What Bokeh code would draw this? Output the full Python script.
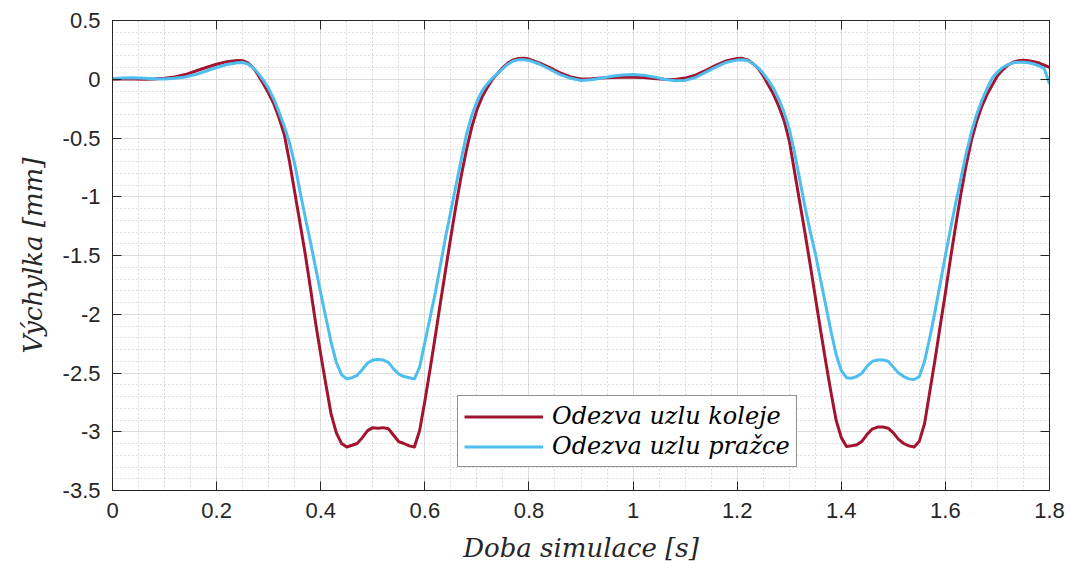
from bokeh.plotting import figure
from bokeh.models import (SingleIntervalTicker, LinearAxis, CustomJSTickFormatter,
                          Legend, LegendItem, Range1d, ColumnDataSource)
from bokeh.embed import file_html
from bokeh.resources import INLINE

# Simulation time [s]
t = [0.00, 0.02, 0.04, 0.06, 0.08, 0.10, 0.12, 0.14, 0.16, 0.18, 0.20, 0.22,
     0.24, 0.25, 0.26, 0.27, 0.28, 0.29, 0.30, 0.31, 0.32, 0.33, 0.34, 0.35,
     0.36, 0.37, 0.38, 0.39, 0.40, 0.41, 0.42, 0.43, 0.44, 0.45, 0.46, 0.47,
     0.48, 0.49, 0.50, 0.51, 0.52, 0.53, 0.54, 0.55, 0.56, 0.57, 0.58, 0.59,
     0.60, 0.61, 0.62, 0.63, 0.64, 0.65, 0.66, 0.67, 0.68, 0.69, 0.70, 0.71,
     0.72, 0.73, 0.74, 0.75, 0.76, 0.77, 0.78, 0.79, 0.80,
     0.82, 0.84, 0.86, 0.88, 0.90, 0.92, 0.94, 0.96, 0.98, 1.00, 1.02, 1.04,
     1.06, 1.08, 1.10, 1.12, 1.14, 1.16, 1.18,
     1.20, 1.21, 1.22, 1.23, 1.24, 1.25, 1.26, 1.27, 1.28, 1.29, 1.30, 1.31,
     1.32, 1.33, 1.34, 1.35, 1.36, 1.37, 1.38, 1.39, 1.40, 1.41, 1.42, 1.43,
     1.44, 1.45, 1.46, 1.47, 1.48, 1.49, 1.50, 1.51, 1.52, 1.53, 1.54, 1.55,
     1.56, 1.57, 1.58, 1.59, 1.60, 1.61, 1.62, 1.63, 1.64, 1.65, 1.66, 1.67,
     1.68, 1.69, 1.70, 1.71, 1.72, 1.73, 1.74, 1.75, 1.76, 1.77, 1.78, 1.79,
     1.80]

# Rail node response [mm]
koleje = [0.000, 0.002, 0.002, 0.001, 0.002, 0.008, 0.020, 0.040, 0.070, 0.100, 0.128, 0.150,
          0.160, 0.158, 0.140, 0.100, 0.035, -0.040, -0.120, -0.210, -0.330, -0.470, -0.700, -0.960,
          -1.220, -1.480, -1.770, -2.070, -2.340, -2.600, -2.850, -3.010, -3.100, -3.130, -3.115, -3.100,
          -3.050, -2.990, -2.965, -2.970, -2.965, -2.975, -3.030, -3.085, -3.100, -3.120, -3.130, -2.990,
          -2.740, -2.470, -2.190, -1.900, -1.620, -1.340, -1.070, -0.820, -0.600, -0.410, -0.260, -0.150,
          -0.070, 0.000, 0.050, 0.100, 0.140, 0.165, 0.176, 0.178, 0.172,
          0.140, 0.100, 0.055, 0.020, 0.003, 0.005, 0.010, 0.014, 0.017, 0.017, 0.014, 0.007,
          0.000, -0.003, 0.010, 0.035, 0.075, 0.120, 0.158,
          0.176, 0.178, 0.165, 0.135, 0.095, 0.030, -0.050, -0.130, -0.230, -0.350, -0.520, -0.780,
          -1.040, -1.300, -1.570, -1.850, -2.130, -2.400, -2.660, -2.900, -3.050, -3.125, -3.120, -3.110,
          -3.080, -3.020, -2.975, -2.960, -2.960, -2.970, -3.010, -3.065, -3.100, -3.120, -3.130, -3.080,
          -2.930, -2.660, -2.390, -2.100, -1.820, -1.520, -1.240, -0.970, -0.730, -0.520, -0.360, -0.230,
          -0.130, -0.050, 0.030, 0.080, 0.120, 0.145, 0.158, 0.162, 0.158, 0.150, 0.138, 0.120,
          0.100]

# Sleeper node response [mm]
prazce = [0.005, 0.010, 0.012, 0.008, 0.004, 0.003, 0.008, 0.020, 0.040, 0.070, 0.100, 0.125,
          0.140, 0.142, 0.130, 0.100, 0.050, -0.010, -0.080, -0.170, -0.280, -0.400, -0.540, -0.720,
          -0.950, -1.170, -1.380, -1.600, -1.820, -2.030, -2.240, -2.410, -2.515, -2.550, -2.540, -2.520,
          -2.470, -2.415, -2.390, -2.385, -2.390, -2.410, -2.465, -2.510, -2.530, -2.540, -2.550, -2.450,
          -2.240, -2.030, -1.820, -1.580, -1.340, -1.120, -0.900, -0.680, -0.470, -0.310, -0.190, -0.100,
          -0.040, 0.010, 0.050, 0.090, 0.130, 0.155, 0.165, 0.165, 0.160,
          0.130, 0.085, 0.040, 0.008, -0.010, -0.005, 0.010, 0.025, 0.037, 0.040, 0.035, 0.020,
          0.000, -0.012, -0.010, 0.015, 0.060, 0.105, 0.145,
          0.163, 0.165, 0.160, 0.135, 0.100, 0.050, -0.010, -0.080, -0.170, -0.280, -0.420, -0.620,
          -0.850, -1.080, -1.290, -1.480, -1.700, -1.920, -2.140, -2.340, -2.480, -2.540, -2.545, -2.530,
          -2.500, -2.440, -2.400, -2.390, -2.390, -2.400, -2.450, -2.500, -2.530, -2.550, -2.555, -2.530,
          -2.400, -2.200, -1.980, -1.740, -1.500, -1.270, -1.050, -0.840, -0.630, -0.450, -0.300, -0.180,
          -0.080, 0.010, 0.060, 0.100, 0.125, 0.140, 0.145, 0.145, 0.140, 0.130, 0.115, 0.090,
          -0.040]

series_labels = ["Odezva uzlu koleje", "Odezva uzlu pražce"]
series_colors = ["#A2142F", "#4DBEEE"]
x_title = "Doba simulace [s]"
y_title = "Výchylka [mm]"

source = ColumnDataSource(dict(t=t, koleje=koleje, prazce=prazce))

AXIS_COLOR = "#262626"
TICK_FONT = "Liberation Sans"
TITLE_FONT = "DejaVu Serif"

p = figure(width=1075, height=575, output_backend="svg", toolbar_location=None,
           x_range=Range1d(0, 1.8), y_range=Range1d(-3.5, 0.5),
           x_axis_location=None, y_axis_location=None,
           min_border_left=112, min_border_right=26, min_border_top=20, min_border_bottom=85)
p.background_fill_color = "white"
p.border_fill_color = "white"
p.outline_line_color = AXIS_COLOR
p.outline_line_width = 1

xticker = SingleIntervalTicker(interval=0.2, num_minor_ticks=4)
yticker = SingleIntervalTicker(interval=0.5, num_minor_ticks=5)
num_fmt = CustomJSTickFormatter(code="return String(Number(tick.toFixed(2)));")
blank_fmt = CustomJSTickFormatter(code="return '';")


def make_axis(ticker, labelled, title=None):
    ax = LinearAxis(ticker=ticker, formatter=num_fmt if labelled else blank_fmt)
    ax.axis_line_color = AXIS_COLOR
    ax.major_tick_line_color = AXIS_COLOR
    ax.major_tick_in = 9
    ax.major_tick_out = 0
    ax.minor_tick_in = 0
    ax.minor_tick_out = 0
    if labelled:
        ax.major_label_text_font = TICK_FONT
        ax.major_label_text_font_size = "22px"
        ax.major_label_text_color = AXIS_COLOR
        ax.major_label_standoff = 12
    else:
        ax.major_label_text_font_size = "8px"
        ax.major_label_standoff = 0
    if title:
        ax.axis_label = title
        ax.axis_label_text_font = TITLE_FONT
        ax.axis_label_text_font_style = "italic"
        ax.axis_label_text_font_size = "26px"
        ax.axis_label_text_color = AXIS_COLOR
        ax.axis_label_standoff = 12
    return ax


p.add_layout(make_axis(xticker, True, x_title), "below")
p.add_layout(make_axis(yticker, True, y_title), "left")
p.add_layout(make_axis(xticker, False), "above")
p.add_layout(make_axis(yticker, False), "right")

for g, tk in ((p.xgrid, xticker), (p.ygrid, yticker)):
    g.ticker = tk
    g.grid_line_color = "#dcdcdc"
    g.grid_line_width = 1
    g.minor_grid_line_color = "#bdbdbd"
    g.minor_grid_line_dash = "1 3"
    g.minor_grid_line_width = 1

r1 = p.line("t", "koleje", source=source, line_color=series_colors[0], line_width=3,
            line_join="round")
r2 = p.line("t", "prazce", source=source, line_color=series_colors[1], line_width=3,
            line_join="round")

legend = Legend(items=[LegendItem(label=series_labels[0], renderers=[r1]),
                       LegendItem(label=series_labels[1], renderers=[r2])],
                location=(345, 23))
legend.label_text_font = TITLE_FONT
legend.label_text_font_style = "italic"
legend.label_text_font_size = "24px"
legend.label_text_color = "black"
legend.glyph_width = 79
legend.glyph_height = 27
legend.label_height = 27
legend.label_standoff = 9
legend.spacing = 2
legend.padding = 6
legend.margin = 0
legend.border_line_color = AXIS_COLOR
legend.border_line_width = 1
legend.background_fill_color = "white"
legend.background_fill_alpha = 1
p.add_layout(legend)

open("out.html", "w").write(file_html(p, INLINE))
